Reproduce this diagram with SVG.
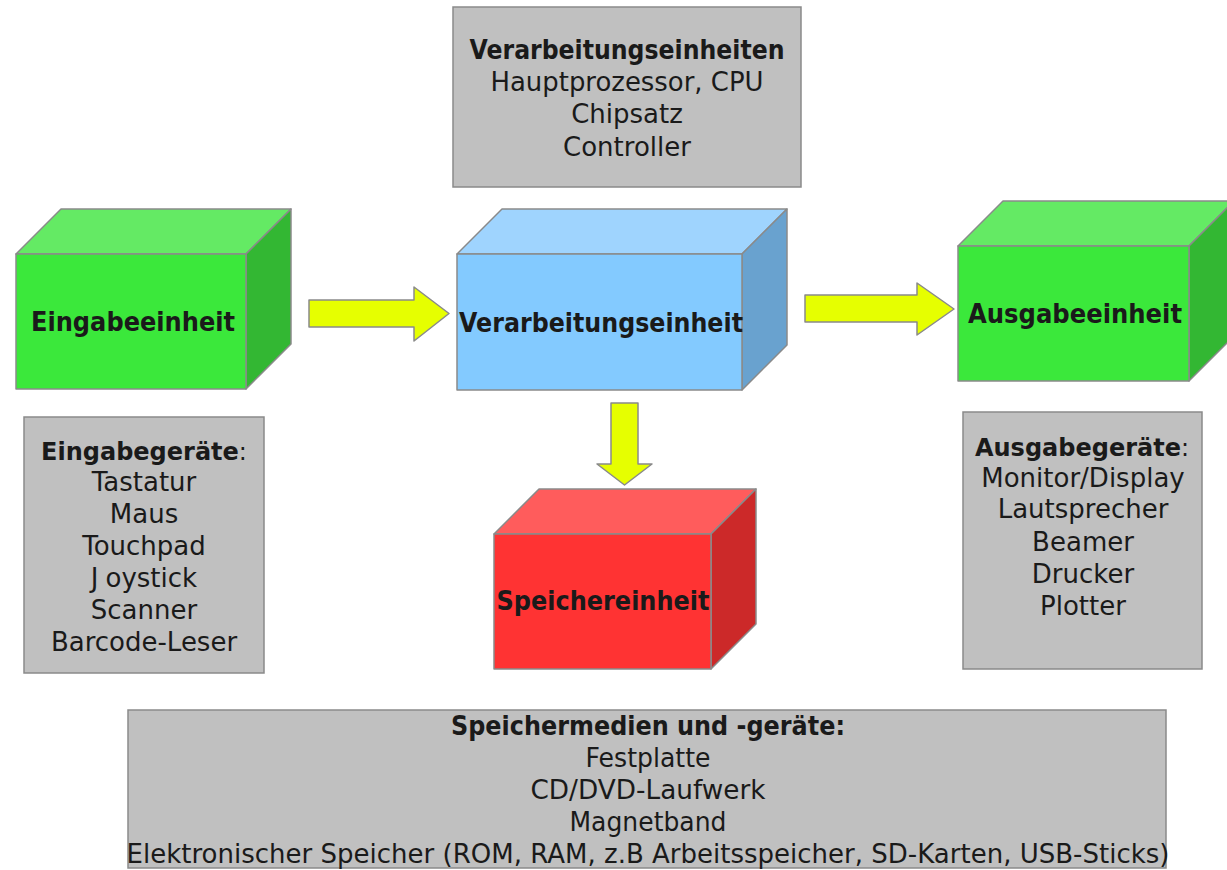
<svg xmlns="http://www.w3.org/2000/svg" width="1227" height="870" viewBox="0 0 1227 870">
  <style>
    .box { fill: #c0c0c0; stroke: #8a8a8a; stroke-width: 1.5; }
    .edge { stroke: #8a8a8a; stroke-width: 1.5; stroke-linejoin: round; }
    .g-front { fill: #3be83b; } .g-top { fill: #64ea64; } .g-side { fill: #33b733; }
    .b-front { fill: #83caff; } .b-top { fill: #9fd4fe; } .b-side { fill: #69a2cf; }
    .r-front { fill: #ff3333; } .r-top { fill: #ff5c5c; } .r-side { fill: #cc2929; }
    .arrow { fill: #e6ff00; stroke: #8a8a8a; stroke-width: 1.5; stroke-linejoin: round; }
    text { font-family: "DejaVu Sans", "Liberation Sans", sans-serif; font-size: 26px; fill: #1a1a1a; text-anchor: middle; }
    .bold { font-weight: bold; }
    .head { font-size: 24px; }
  </style>

  <!-- top information box: processing units -->
  <g id="info-verarbeitung">
    <rect class="box" x="453" y="7" width="348" height="180"/>
    <text class="bold" x="627" y="59" textLength="315" lengthAdjust="spacingAndGlyphs">Verarbeitungseinheiten</text>
    <text x="627" y="91" textLength="273" lengthAdjust="spacingAndGlyphs">Hauptprozessor, CPU</text>
    <text x="627" y="123">Chipsatz</text>
    <text x="627" y="156">Controller</text>
  </g>

  <!-- input unit cube -->
  <g id="cube-eingabe">
    <polygon class="edge g-top" points="16,254 61,209 291,209 246,254"/>
    <polygon class="edge g-side" points="246,254 291,209 291,344 246,389"/>
    <rect class="edge g-front" x="16" y="254" width="230" height="135"/>
    <text class="bold" x="133" y="331" textLength="204" lengthAdjust="spacingAndGlyphs">Eingabeeinheit</text>
  </g>

  <!-- processing unit cube -->
  <g id="cube-verarbeitung">
    <polygon class="edge b-top" points="457,254 502,209 787,209 742,254"/>
    <polygon class="edge b-side" points="742,254 787,209 787,345 742,390"/>
    <rect class="edge b-front" x="457" y="254" width="285" height="136"/>
    <text class="bold" x="601" y="332" textLength="284" lengthAdjust="spacingAndGlyphs">Verarbeitungseinheit</text>
  </g>

  <!-- output unit cube -->
  <g id="cube-ausgabe">
    <polygon class="edge g-top" points="958,246 1003,201 1234,201 1189,246"/>
    <polygon class="edge g-side" points="1189,246 1234,201 1234,336 1189,381"/>
    <rect class="edge g-front" x="958" y="246" width="231" height="135"/>
    <text class="bold" x="1075" y="323" textLength="214" lengthAdjust="spacingAndGlyphs">Ausgabeeinheit</text>
  </g>

  <!-- storage unit cube -->
  <g id="cube-speicher">
    <polygon class="edge r-top" points="494,534 539,489 756,489 711,534"/>
    <polygon class="edge r-side" points="711,534 756,489 756,624 711,669"/>
    <rect class="edge r-front" x="494" y="534" width="217" height="135"/>
    <text class="bold" x="603" y="610" textLength="213" lengthAdjust="spacingAndGlyphs">Speichereinheit</text>
  </g>

  <!-- block arrows between units -->
  <g id="connectors">
    <polygon class="arrow" points="309,300 414,300 414,287 449,313.5 414,341 414,327 309,327"/>
    <polygon class="arrow" points="805,295 917,295 917,283 954,309 917,335 917,322 805,322"/>
    <polygon class="arrow" points="611,403 638,403 638,464 652,464 624.5,485 597,464 611,464"/>
  </g>

  <!-- input devices -->
  <g id="info-eingabe">
    <rect class="box" x="24" y="417" width="240" height="256"/>
    <text class="head" x="144" y="460"><tspan class="bold">Eingabegeräte</tspan>:</text>
    <text x="144" y="491">Tastatur</text>
    <text x="144" y="523">Maus</text>
    <text x="144" y="555">Touchpad</text>
    <text x="144" y="587">J<tspan dx="7">oystick</tspan></text>
    <text x="144" y="619">Scanner</text>
    <text x="144" y="651">Barcode-Leser</text>
  </g>

  <!-- output devices -->
  <g id="info-ausgabe">
    <rect class="box" x="963" y="412" width="239" height="257"/>
    <text class="head" x="1082" y="456"><tspan class="bold">Ausgabegeräte</tspan>:</text>
    <text x="1083" y="487">Monitor/Display</text>
    <text x="1083" y="518">Lautsprecher</text>
    <text x="1083" y="551">Beamer</text>
    <text x="1083" y="583">Drucker</text>
    <text x="1083" y="615">Plotter</text>
  </g>

  <!-- storage media -->
  <g id="info-speichermedien">
    <rect class="box" x="128" y="710" width="1038" height="158"/>
    <text class="bold" x="648" y="735" textLength="394" lengthAdjust="spacingAndGlyphs">Speichermedien und -geräte:</text>
    <text x="648" y="767" textLength="125" lengthAdjust="spacingAndGlyphs">Festplatte</text>
    <text x="648" y="799" textLength="235" lengthAdjust="spacingAndGlyphs">CD/DVD-Laufwerk</text>
    <text x="648" y="831" textLength="157" lengthAdjust="spacingAndGlyphs">Magnetband</text>
    <text x="648" y="863" textLength="1043" lengthAdjust="spacingAndGlyphs">Elektronischer Speicher (ROM, RAM, z.B Arbeitsspeicher, SD-Karten, USB-Sticks)</text>
  </g>
</svg>
